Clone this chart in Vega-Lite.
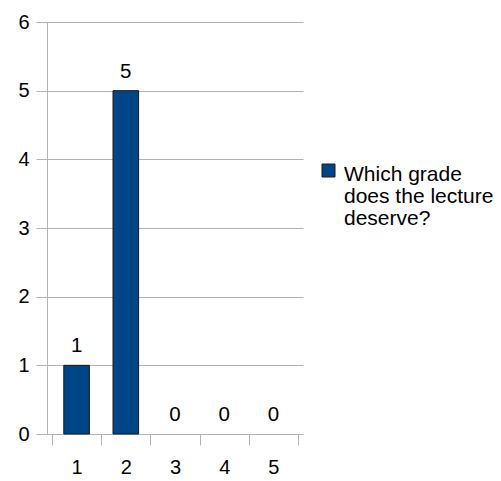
{
  "$schema": "https://vega.github.io/schema/vega-lite/v6.json",
  "width": 256,
  "height": 412,
  "autosize": "none",
  "padding": {"left": 47, "top": 22, "right": 198, "bottom": 47},
  "background": "white",
  "config": {
    "view": {"stroke": null},
    "font": "Liberation Sans",
    "axis": {
      "labelFont": "Liberation Sans",
      "labelFontSize": 20,
      "labelColor": "#000000",
      "domainColor": "#b3b3b3",
      "tickColor": "#b3b3b3",
      "gridColor": "#b3b3b3",
      "title": null
    }
  },
  "data": {
    "values": [
      {"grade": 1, "count": 1, "series": "Which grade does the lecture deserve?"},
      {"grade": 2, "count": 5, "series": "Which grade does the lecture deserve?"},
      {"grade": 3, "count": 0, "series": "Which grade does the lecture deserve?"},
      {"grade": 4, "count": 0, "series": "Which grade does the lecture deserve?"},
      {"grade": 5, "count": 0, "series": "Which grade does the lecture deserve?"}
    ]
  },
  "encoding": {
    "x": {
      "field": "grade",
      "type": "quantitative",
      "scale": {"domain": [0.5, 5.5], "nice": false, "zero": false},
      "axis": {
        "values": [0.5, 1, 1.5, 2, 2.5, 3, 3.5, 4, 4.5, 5, 5.5],
        "tickSize": 11,
        "tickOpacity": {"condition": {"test": "datum.value % 1 === 0", "value": 0}, "value": 1},
        "labelExpr": "datum.value % 1 === 0 ? format(datum.value, 'd') : ''",
        "labelPadding": 12,
        "labelFlush": false,
        "labelOverlap": false,
        "labelBound": false,
        "grid": false
      }
    },
    "y": {
      "field": "count",
      "type": "quantitative",
      "scale": {"domain": [0, 6], "nice": false},
      "axis": {
        "values": [0, 1, 2, 3, 4, 5, 6],
        "format": "d",
        "tickSize": 11,
        "labelPadding": 7,
        "grid": true
      }
    }
  },
  "layer": [
    {
      "mark": {"type": "bar", "width": 25.6, "stroke": "#1a1a1a", "strokeWidth": 1},
      "encoding": {
        "strokeOpacity": {"condition": {"test": "datum.count === 0", "value": 0}, "value": 1},
        "color": {
          "field": "series",
          "type": "nominal",
          "scale": {"range": ["#004586"]},
          "legend": {
            "title": null,
            "orient": "none",
            "legendX": 271,
            "legendY": 138,
            "padding": 0,
            "symbolType": "square",
            "symbolSize": 169,
            "symbolStrokeColor": "#1a1a1a",
            "symbolStrokeWidth": 1,
            "labelFont": "Liberation Sans",
            "labelFontSize": 21,
            "labelColor": "#000000",
            "labelLimit": 300,
            "labelOffset": 5,
            "labelBaseline": "top",
            "labelExpr": "['Which grade', 'does the lecture', 'deserve?']",
            "encode": {"labels": {"update": {"lineHeight": {"value": 22}, "dy": {"value": -7}}}}
          }
        }
      }
    },
    {
      "mark": {"type": "text", "baseline": "alphabetic", "dy": -13, "fontSize": 20.5, "font": "Liberation Sans", "color": "#000000"},
      "encoding": {"text": {"field": "count", "type": "quantitative"}}
    }
  ]
}
